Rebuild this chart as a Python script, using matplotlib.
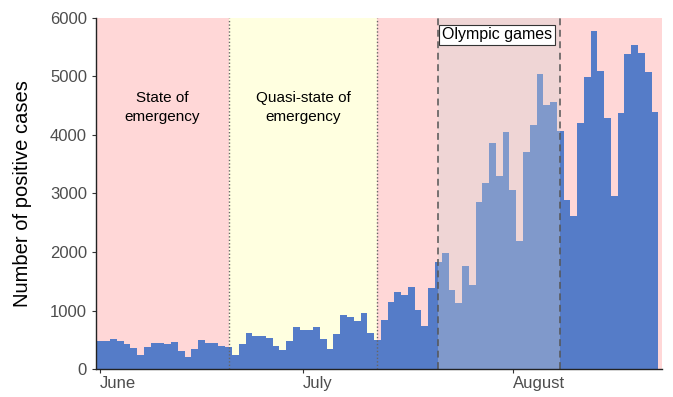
import numpy as np
import pandas as pd
import matplotlib
matplotlib.use("Agg")
import matplotlib.pyplot as plt

plt.rcParams["font.family"] = ["Liberation Sans", "DejaVu Sans"]

# Daily positive cases, 1 June - 22 August
START = "2021-06-01"
CASES = [
    471, 487, 508, 472, 436, 351, 235, 369, 440, 439, 435, 467, 304, 209, 337,
    501, 452, 453, 388, 376, 236, 435, 619, 570, 562, 534, 386, 317, 476, 714,
    673, 660, 716, 518, 342, 593, 920, 896, 822, 950, 614, 502, 830, 1149, 1308,
    1271, 1410, 1008, 727, 1387, 1832, 1979, 1359, 1128, 1763, 1429, 2848, 3177,
    3865, 3300, 4058, 3058, 2195, 3709, 4166, 5042, 4515, 4566, 4066, 2884,
    2612, 4200, 4989, 5773, 5094, 4295, 2962, 4377, 5386, 5534, 5405, 5074, 4392,
]
EMERGENCY_END = "2021-06-20"
QUASI_END = "2021-07-12"
OLYMPIC_START = "2021-07-21"
OLYMPIC_END = "2021-08-08"
MONTH_TICKS = ["2021-06-01", "2021-07-01", "2021-08-01"]
MONTH_LABELS = ["June", "July", "August"]

PINK = "#ffd7d7"
YELLOW = "#ffffe0"
BLUE = "#557cc8"

dates = pd.date_range(START, periods=len(CASES), freq="D")
t0 = dates[0]


def day(d):
    return (pd.Timestamp(d) - t0).days


x = np.arange(len(CASES))
x_lo, x_hi = -0.6, len(CASES) + 0.05

fig = plt.figure(figsize=(6.73, 3.97), dpi=100)
ax = fig.add_axes([0.1426, 0.0705, 0.8411, 0.8842])

# period backgrounds
ax.axvspan(x_lo, day(EMERGENCY_END), color=PINK, lw=0, zorder=0)
ax.axvspan(day(EMERGENCY_END), day(QUASI_END), color=YELLOW, lw=0, zorder=0)
ax.axvspan(day(QUASI_END), x_hi, color=PINK, lw=0, zorder=0)

ax.bar(x, CASES, width=1.0, color=BLUE, lw=0, zorder=2)

# Olympic overlay
o0, o1 = day(OLYMPIC_START), day(OLYMPIC_END)
ax.axvspan(o0, o1, color="#d2d2d2", alpha=0.35, lw=0, zorder=3)
for xv in (o0, o1):
    ax.axvline(xv, color="#555555", ls=(0, (4.5, 3)), lw=1.1, zorder=4)
for xv in (day(EMERGENCY_END), day(QUASI_END)):
    ax.axvline(xv, color="#666666", ls=(0, (1, 1.5)), lw=1.0, zorder=4)

ax.text((o0 + o1) / 2 - 0.3, 5710, "Olympic games", ha="center", va="center",
        fontsize=11.5, zorder=5,
        bbox=dict(boxstyle="square,pad=0.17", fc="white", ec="#333333", lw=0.8))
ax.text(day(EMERGENCY_END) / 2 - 0.3, 4470, "State of\nemergency",
        ha="center", va="center", fontsize=11, linespacing=1.5, zorder=5)
ax.text((day(EMERGENCY_END) + day(QUASI_END)) / 2, 4470,
        "Quasi-state of\nemergency",
        ha="center", va="center", fontsize=11, linespacing=1.5, zorder=5)

ax.set_xlim(x_lo, x_hi)
ax.set_ylim(0, 6000)
ax.set_yticks(range(0, 6001, 1000))
ax.set_xticks([day(d) for d in MONTH_TICKS])
ax.set_xticklabels(MONTH_LABELS, ha="left")
ax.tick_params(colors="#333333", labelcolor="#4d4d4d", labelsize=12,
               length=3, width=0.8)
ax.tick_params(axis="x", pad=2)
ax.set_ylabel("Number of positive cases", fontsize=14.5, labelpad=13)

ax.spines[["top", "right"]].set_visible(False)
for s in ("left", "bottom"):
    ax.spines[s].set_color("#222222")
    ax.spines[s].set_linewidth(1.0)
    ax.spines[s].set_zorder(6)

fig.savefig("out.png", dpi=100)
